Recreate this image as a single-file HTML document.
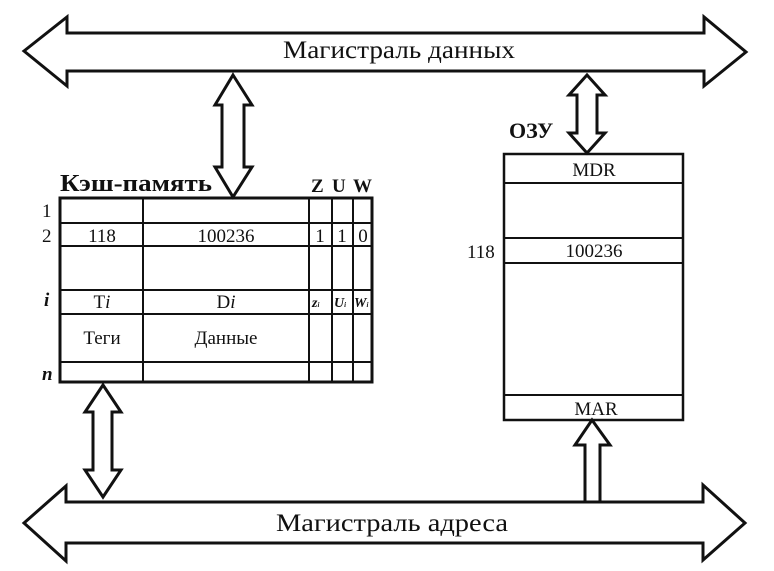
<!DOCTYPE html>
<html><head><meta charset="utf-8"><style>
html,body{margin:0;padding:0;background:#fff}
svg{display:block}
text{font-family:"Liberation Serif","DejaVu Serif",serif;fill:#111}
</style></head><body>
<svg width="774" height="571" viewBox="0 0 774 571" xmlns="http://www.w3.org/2000/svg">
<g fill="#fff" stroke="#111" stroke-width="3" stroke-linejoin="miter">
<polygon points="24,51 67,17 67,33 704,33 704,17 746,52 704,86 704,71 67,71 67,86"/>
<polygon points="24,523 66,486 66,502 703,502 703,485 745,523 703,560 703,543 66,543 66,561"/>
<polygon points="233,75 252,105 244,105 244,167 252,167 233,197 215,167 222,167 222,105 215,105"/>
<polygon points="103,385 121,412 112,412 112,470 121,470 103,497 85,470 93,470 93,412 85,412"/>
<polygon points="587,75 605,95 597,95 597,133 605,133 587,153 569,133 577,133 577,95 569,95"/>
<polygon points="592,420 610,445 600,445 600,502 585,502 585,445 575,445"/>
</g>
<g fill="none" stroke="#111">
<rect x="60" y="198" width="312" height="184" stroke-width="3"/>
<g stroke-width="2">
<line x1="143" y1="198" x2="143" y2="382"/>
<line x1="309" y1="198" x2="309" y2="382"/>
<line x1="332" y1="198" x2="332" y2="382"/>
<line x1="353" y1="198" x2="353" y2="382"/>
<line x1="60" y1="223" x2="372" y2="223"/>
<line x1="60" y1="246" x2="372" y2="246"/>
<line x1="60" y1="290" x2="372" y2="290"/>
<line x1="60" y1="314" x2="372" y2="314"/>
<line x1="60" y1="362" x2="372" y2="362"/>
</g>
<rect x="504" y="154" width="179" height="266" stroke-width="2.5"/>
<g stroke-width="2">
<line x1="504" y1="183" x2="683" y2="183"/>
<line x1="504" y1="238" x2="683" y2="238"/>
<line x1="504" y1="263" x2="683" y2="263"/>
<line x1="504" y1="395" x2="683" y2="395"/>
</g>
</g>
<text x="399" y="58" font-size="25" text-anchor="middle" textLength="232" lengthAdjust="spacingAndGlyphs">Магистраль данных</text>
<text x="392" y="531" font-size="25" text-anchor="middle" textLength="232" lengthAdjust="spacingAndGlyphs">Магистраль адреса</text>
<text x="60" y="191" font-size="24" font-weight="bold" textLength="152" lengthAdjust="spacingAndGlyphs">Кэш-память</text>
<text x="311" y="192" font-size="19" font-weight="bold">Z</text>
<text x="332" y="192" font-size="19" font-weight="bold">U</text>
<text x="353" y="192" font-size="19" font-weight="bold">W</text>
<text x="509" y="138" font-size="22" font-weight="bold">ОЗУ</text>
<g font-size="19">
<text x="42" y="217">1</text>
<text x="42" y="242">2</text>
<text x="44" y="306" font-style="italic" font-weight="bold">i</text>
<text x="42" y="380" font-style="italic" font-weight="bold">n</text>
<text x="102" y="242" text-anchor="middle">118</text>
<text x="226" y="242" text-anchor="middle">100236</text>
<text x="320" y="242" text-anchor="middle">1</text>
<text x="342" y="242" text-anchor="middle">1</text>
<text x="363" y="242" text-anchor="middle">0</text>
<text x="102" y="308" text-anchor="middle">T<tspan font-style="italic">i</tspan></text>
<text x="226" y="308" text-anchor="middle">D<tspan font-style="italic">i</tspan></text>
<text x="102" y="344" text-anchor="middle">Теги</text>
<text x="226" y="344" text-anchor="middle">Данные</text>
<text x="594" y="176" text-anchor="middle">MDR</text>
<text x="594" y="257" text-anchor="middle">100236</text>
<text x="467" y="258">118</text>
<text x="596" y="415" text-anchor="middle">MAR</text>
</g>
<g font-size="14" font-style="italic" font-weight="bold">
<text x="312" y="307">z<tspan font-size="7">i</tspan></text>
<text x="334" y="307">U<tspan font-size="7">i</tspan></text>
<text x="354" y="307">W<tspan font-size="7">i</tspan></text>
</g>
</svg>
</body></html>
